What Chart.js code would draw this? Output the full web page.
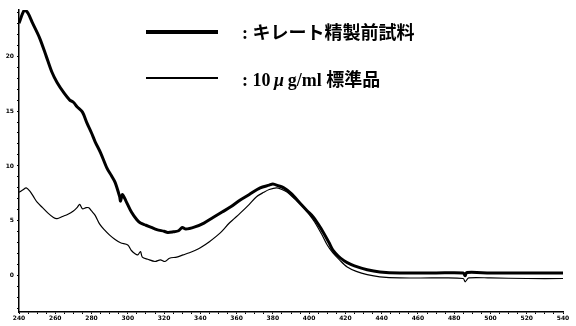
<!DOCTYPE html>
<html>
<head>
<meta charset="utf-8">
<script src="https://cdn.jsdelivr.net/npm/chart.js@4.4.0/dist/chart.umd.min.js"></script>
<style>
  html, body { margin: 0; padding: 0; background: #fff; }
  #wrap { position: relative; width: 576px; height: 326px; }
  #chart { display: block; }
  .key { position: absolute; background: #000; }
  .lbl {
    position: absolute; font-family: "Liberation Serif", "Noto Sans CJK JP", serif;
    font-weight: bold; font-size: 18px; color: #000; white-space: nowrap; line-height: 1;
  }
</style>
</head>
<body>
<div id="wrap">
  <canvas id="chart" width="576" height="326"></canvas>
  <div class="key" style="left:146px; top:30px; width:72px; height:4px;"></div>
  <div class="lbl" style="left:242px; top:24px;">:&nbsp;キレート精製前試料</div>
  <div class="key" style="left:146px; top:77px; width:72px; height:1.6px;"></div>
  <div class="lbl" style="left:242px; top:71px;">:&nbsp;10<i style="font-family:'Liberation Serif';">&thinsp;μ&thinsp;</i>g/ml 標準品</div>
</div>
<script>
'use strict';

// thick line: sample before chelate purification
const waveSample = [240, 243, 245, 247.5, 251.5, 255, 258, 261, 265, 268, 270, 272, 275, 277.5, 280, 282, 285, 288.5, 291, 293,
  295.5, 296, 297, 299, 302, 305, 307, 310, 313, 316, 320, 322, 325, 328, 330, 332, 337, 342, 347, 352,
  357, 362, 367, 373, 378, 380, 383, 386, 390, 395, 399, 402, 405, 408, 411, 413, 416, 419, 421, 425,
  432, 439, 450, 470, 485, 486, 487, 500, 520, 540];
const absSample = [23.0, 24.2, 23.9, 23.0, 21.6, 20.0, 18.6, 17.6, 16.6, 16.0, 15.8, 15.4, 14.9, 13.9, 13.0, 12.2, 11.2, 9.8, 9.1, 8.5,
  7.2, 6.8, 7.4, 6.8, 5.8, 5.1, 4.8, 4.6, 4.4, 4.2, 4.05, 3.95, 4.0, 4.1, 4.4, 4.25, 4.45, 4.8, 5.3, 5.8,
  6.3, 6.9, 7.4, 8.0, 8.25, 8.35, 8.2, 8.0, 7.5, 6.6, 5.9, 5.4, 4.7, 3.9, 3.0, 2.35, 1.8, 1.4, 1.2, 0.9,
  0.55, 0.35, 0.25, 0.25, 0.25, 0.0, 0.3, 0.25, 0.25, 0.25];

// thin line: 10 ug/ml standard
const waveStd = [240, 242, 244, 246, 248, 250, 253, 256, 259, 261, 264, 267, 270, 272, 273.5, 275, 277, 278.5, 280, 282,
  284.5, 287, 290, 293, 296, 300, 302, 304, 305.5, 307, 308, 311, 315, 318, 320.5, 323, 327, 330.5, 334, 337,
  340, 345, 351, 356, 362, 367, 371, 375, 378, 382, 385, 388, 392, 396, 399, 403, 407.5, 410, 413, 417,
  421, 426, 432, 439, 450, 470, 485, 486, 488, 500, 520, 540];
const absStd = [7.6, 7.8, 8.0, 7.7, 7.2, 6.7, 6.2, 5.7, 5.3, 5.2, 5.4, 5.6, 5.9, 6.2, 6.5, 6.1, 6.2, 6.2, 5.9, 5.5,
  4.7, 4.2, 3.7, 3.3, 3.0, 2.8, 2.3, 2.0, 1.9, 2.2, 1.7, 1.5, 1.3, 1.45, 1.3, 1.6, 1.7, 1.9, 2.1, 2.3,
  2.55, 3.1, 3.9, 4.8, 5.7, 6.5, 7.2, 7.6, 7.85, 8.0, 7.85, 7.6, 7.0, 6.4, 5.8, 4.9, 3.6, 2.8, 2.1, 1.4,
  0.8, 0.4, 0.1, -0.1, -0.2, -0.2, -0.25, -0.55, -0.2, -0.2, -0.25, -0.25];

const xMajor = [240, 260, 280, 300, 320, 340, 360, 380, 400, 420, 440, 460, 480, 500, 520, 540];
const yMajor = [0, 5, 10, 15, 20];

const toPoints = (xs, ys) => xs.map((x, i) => ({ x, y: ys[i] }));

const tickFont = { family: 'DejaVu Sans', size: 6, weight: 'bold' };

new Chart(document.getElementById('chart'), {
  type: 'line',
  data: {
    datasets: [
      {
        data: toPoints(waveSample, absSample),
        borderColor: '#000',
        borderWidth: 3,
        pointRadius: 0,
        tension: 0.3,
      },
      {
        data: toPoints(waveStd, absStd),
        borderColor: '#000',
        borderWidth: 1.2,
        pointRadius: 0,
        tension: 0.3,
      },
    ],
  },
  options: {
    responsive: false,
    animation: false,
    layout: { padding: { top: 10, right: 13, left: 0, bottom: 0 } },
    plugins: { legend: { display: false }, tooltip: { enabled: false } },
    scales: {
      x: {
        type: 'linear',
        min: 240,
        max: 540,
        afterFit: s => { s.height = 14; },
        afterBuildTicks: s => {
          const t = [];
          for (let v = 240; v <= 540; v += 5) t.push({ value: v });
          s.ticks = t;
        },
        ticks: {
          color: '#000',
          font: tickFont,
          padding: 1,
          maxRotation: 0,
          autoSkip: false,
          callback: v => (xMajor.includes(v) ? String(v) : ''),
        },
        grid: { drawOnChartArea: false, tickLength: 2, color: '#000' },
        border: { color: '#000', width: 1.5 },
      },
      y: {
        min: -3.3,
        max: 24.2,
        afterFit: s => { s.width = 19; },
        afterBuildTicks: s => {
          const t = [];
          for (let v = -3; v <= 24; v += 1) t.push({ value: v });
          s.ticks = t;
        },
        ticks: {
          color: '#000',
          font: tickFont,
          padding: 3,
          autoSkip: false,
          callback: v => (yMajor.includes(v) ? String(v) : ''),
        },
        grid: { drawOnChartArea: false, tickLength: 2, color: '#000' },
        border: { color: '#000', width: 1.5 },
      },
    },
  },
});
</script>
</body>
</html>
